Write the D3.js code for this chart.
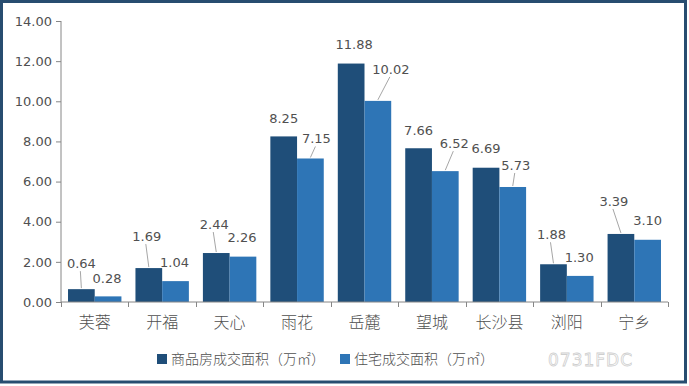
<!DOCTYPE html>
<html><head><meta charset="utf-8">
<script src="https://cdn.jsdelivr.net/npm/d3@7"></script>
<style>body{margin:0;background:#fff}svg{display:block}</style>
</head><body>
<script>
const categories = ["芙蓉","开福","天心","雨花","岳麓","望城","长沙县","浏阳","宁乡"];
const seriesNames = ["商品房成交面积（万㎡）","住宅成交面积（万㎡）"];
const commercial = [0.64,1.69,2.44,8.25,11.88,7.66,6.69,1.88,3.39];
const residential = [0.28,1.04,2.26,7.15,10.02,6.52,5.73,1.30,3.10];
const yTicks = [0,2,4,6,8,10,12,14];

// label nudges (layout only)
const nudge = [
  {dx:[0,-2,-2,0,3,0,0,-2,-7], dy:[-26,-32,-29,-18,-19,-18,-19,-30,-33], leader:[1,1,1,0,0,0,0,1,1]},
  {dx:[-1,-1,-1,6,13,9,3,-1,0], dy:[-18,-19,-19,-20,-32,-28,-22,-19,-19], leader:[0,0,0,1,1,1,1,0,0]}
];
const colors = ["#1f4e79","#2e75b6"];
const W=689,H=386;
const svg=d3.select("body").append("svg").attr("width",W).attr("height",H);
svg.append("rect").attr("width",W).attr("height",H).attr("fill","#fff");
svg.append("rect").attr("x",1.5).attr("y",1.5).attr("width",684).attr("height",380.5)
  .attr("fill","none").attr("stroke","#284d70").attr("stroke-width",3);

const x0=d3.scaleBand().domain(categories).range([61,668]).paddingInner(0.208).paddingOuter(0.104);
const x1=d3.scaleBand().domain([0,1]).range([0,x0.bandwidth()]);
const y=d3.scaleLinear().domain([0,14]).range([302,21]);
const series=[commercial,residential];
const axisColor="#868686", textColor="#505050";
const numFont="'DejaVu Sans', sans-serif";

// y axis
const ya=svg.append("g").attr("transform","translate(61,0)")
  .call(d3.axisLeft(y).tickValues(yTicks).tickFormat(d3.format(".2f")).tickSize(5).tickPadding(4));
ya.select(".domain").attr("stroke",axisColor).attr("d","M0,21V302");
ya.selectAll(".tick line").attr("stroke",axisColor);
ya.selectAll(".tick text").attr("fill",textColor).style("font-family",numFont).style("font-size","13px");

// bars
series.forEach((vals,s)=>{
  svg.append("g").selectAll("rect").data(vals).join("rect")
    .attr("x",(d,i)=>x0(categories[i])+x1(s))
    .attr("y",d=>y(d))
    .attr("width",x1.bandwidth())
    .attr("height",d=>y(0)-y(d))
    .attr("fill",colors[s]);
});

// x axis
const xa=svg.append("g").attr("transform","translate(0,302)");
xa.append("line").attr("x1",61).attr("x2",668).attr("stroke",axisColor);
const step=x0.step();
d3.range(categories.length+1).forEach(i=>{
  const xx=Math.round(61+i*step)+0.5;
  xa.append("line").attr("x1",xx).attr("x2",xx).attr("y1",0).attr("y2",5).attr("stroke",axisColor);
});
xa.selectAll("text.cat").data(categories).join("text").attr("class","cat")
  .attr("x",d=>x0(d)+x0.bandwidth()/2).attr("y",26)
  .attr("text-anchor","middle").attr("fill",textColor)
  .style("font-family","'Noto Sans CJK SC', sans-serif").style("font-size","16px").style("font-weight","300")
  .text(d=>d);

// data labels
series.forEach((vals,s)=>{
  const g=svg.append("g");
  vals.forEach((v,i)=>{
    const cx=x0(categories[i])+x1(s)+x1.bandwidth()/2;
    const top=y(v);
    const lx=cx+nudge[s].dx[i], ly=top+nudge[s].dy[i];
    if(nudge[s].leader[i]){
      g.append("line").attr("x1",lx-1).attr("y1",ly+8).attr("x2",cx).attr("y2",top-1)
        .attr("stroke","#a6a6a6").attr("stroke-width",1);
    }
    g.append("text").attr("x",lx).attr("y",ly).attr("dy","0.36em")
      .attr("text-anchor","middle").attr("fill",textColor)
      .style("font-family",numFont).style("font-size","13px")
      .text(v.toFixed(2));
  });
});

// legend
const leg=svg.append("g");
const legX=[157,340];
seriesNames.forEach((n,s)=>{
  leg.append("rect").attr("x",legX[s]).attr("y",354).attr("width",10).attr("height",10).attr("fill",colors[s]);
  leg.append("text").attr("x",legX[s]+14).attr("y",359).attr("dy","0.36em")
    .attr("fill",textColor).style("font-family","'Noto Sans CJK SC', sans-serif").style("font-size","14px").style("font-weight","300")
    .text(n);
});

// watermark
svg.append("text").attr("x",548).attr("y",360).attr("dy","0.36em")
  .attr("fill","#fff").attr("stroke","#cfcfcf").attr("stroke-width",0.8)
  .style("font-family","'DejaVu Sans', sans-serif").style("font-size","17px").style("letter-spacing","1px")
  .text("0731FDC");
</script>
</body></html>
